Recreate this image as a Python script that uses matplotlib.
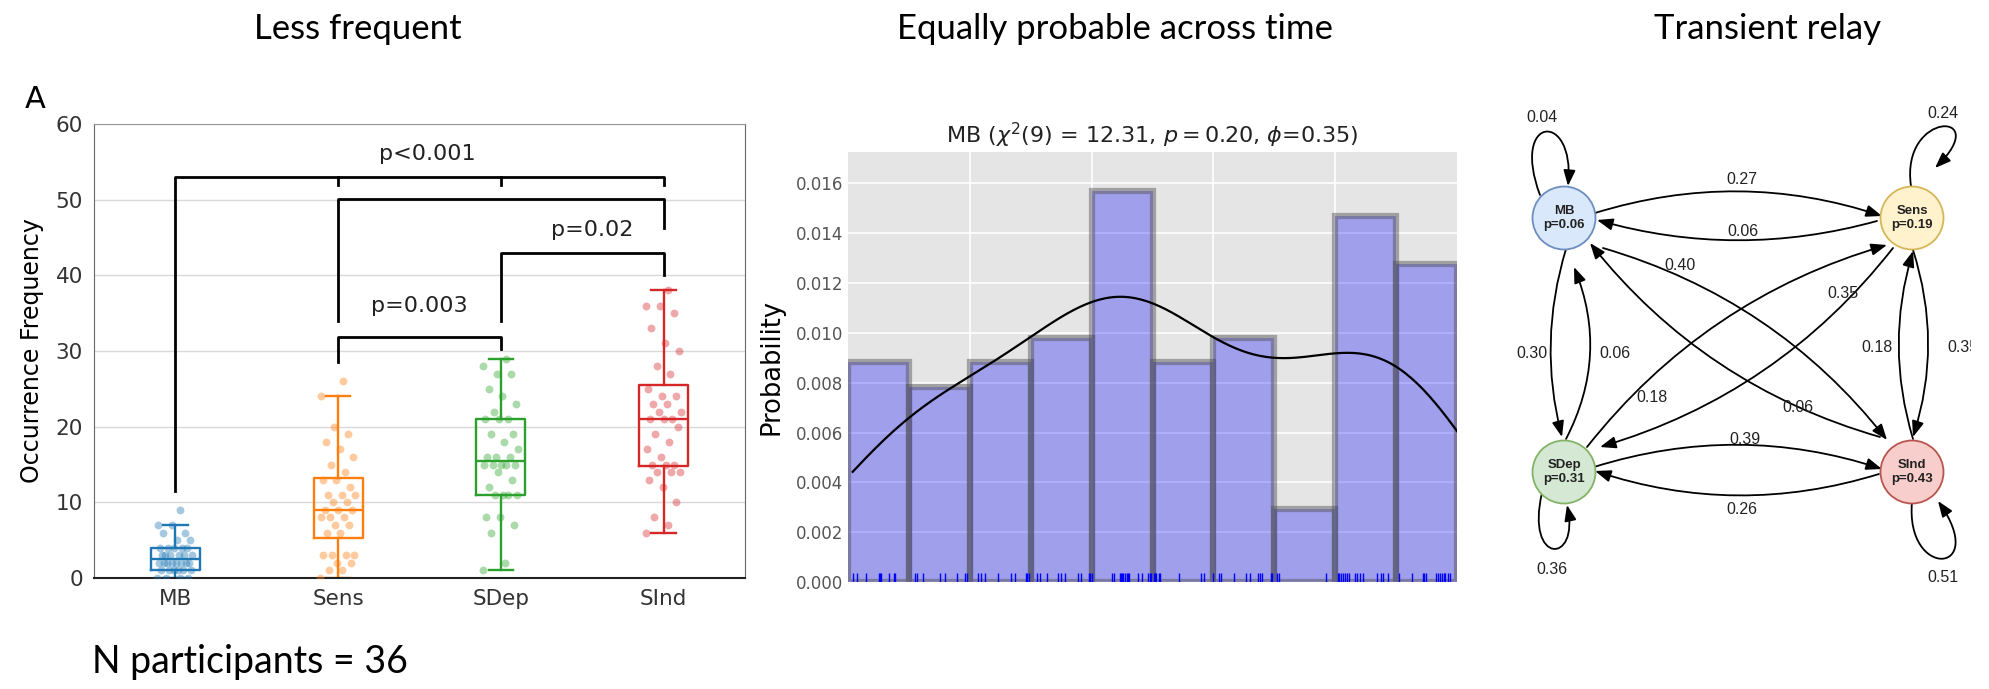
import numpy as np
import matplotlib.pyplot as plt
import seaborn as sns
from matplotlib.patches import Circle, FancyArrowPatch
from matplotlib.path import Path
from matplotlib.transforms import Bbox, TransformedBbox

# occurrence frequency of each state per participant (N = 36)
states = ['MB', 'Sens', 'SDep', 'SInd']
freq_mb = [0, 0, 0, 0, 1, 1, 1, 1, 1, 1, 2, 2, 2, 2, 2, 2, 2, 2,
           3, 3, 3, 3, 3, 3, 4, 4, 4, 4, 4, 5, 5, 6, 6, 7, 7, 9]
freq_sens = [0, 1, 1, 2, 2, 3, 3, 3, 3, 6, 6, 7, 7, 8, 8, 8, 9, 9,
             9, 10, 10, 11, 11, 11, 12, 13, 13, 14, 15, 16, 17, 18, 19, 20, 24, 26]
freq_sdep = [1, 2, 6, 7, 8, 8, 11, 11, 11, 11, 12, 13, 14, 15, 15, 15, 15, 15,
             16, 16, 16, 17, 18, 19, 19, 21, 21, 21, 22, 23, 24, 25, 27, 27, 28, 29]
freq_sind = [6, 7, 8, 10, 12, 13, 14, 14, 14, 15, 15, 15, 16, 17, 18, 19, 20, 21,
             21, 21, 22, 22, 23, 23, 24, 24, 25, 27, 28, 30, 31, 33, 35, 36, 36, 38]
box_colors = ['#1f77b4', '#ff7f0e', '#2ca02c', '#d62728']

# pairwise tests: (group a, group b, bar height, leg end a, leg end b, label, label x, label y)
brackets = [
    (0, 3, 53.0, 11.5, 51.9, 'p<0.001', 1.55, 56.0),
    (1, 3, 50.1, 33.9, 46.2, '', 0, 0),
    (2, 3, 43.0, 33.9, 40.1, 'p=0.02', 2.56, 46.0),
    (1, 2, 31.9, 28.6, 30.3, 'p=0.003', 1.5, 35.9),
]

# onset times of MB episodes (normalised session time, %)
mb_times = [0.77, 1.42, 2.96, 5.1, 5.25, 5.5, 6.73, 7.5, 7.72,
            11.0, 11.4, 12.3, 15.1, 15.9, 17.9, 19.2, 19.5,
            21.3, 21.8, 22.5, 24.7, 26.7, 27.5, 29.2, 29.4, 29.7,
            31.0, 31.5, 32.6, 34.5, 35.0, 35.7, 37.8, 38.3, 39.5, 39.7,
            40.1, 43.3, 43.7, 44.6, 44.9, 45.0, 45.2, 45.5, 45.8, 45.9,
            46.2, 47.7, 48.2, 49.3, 49.6, 49.8,
            50.2, 50.4, 50.6, 51.0, 51.3, 54.4, 57.9, 58.5, 59.9,
            60.9, 61.2, 63.4, 65.4, 66.0, 67.3, 67.6, 67.9, 69.5, 69.7,
            70.4, 70.8, 78.5,
            80.5, 80.7, 80.9, 81.2, 81.6, 82.0, 82.3, 83.3, 83.6, 84.0,
            84.6, 86.8, 87.5, 87.9, 88.6,
            90.4, 92.6, 94.4, 94.6, 94.9, 96.5, 96.8, 97.2, 97.5, 97.8,
            98.1, 98.5, 98.8]
hist_bins = np.arange(0, 101, 10)
chi_title = r'MB ($\chi^2$(9) = 12.31, $p = 0.20$, $\phi$=0.35)'

# transition probabilities, rows = from, cols = to (MB, Sens, SDep, SInd)
state_p = [0.06, 0.19, 0.31, 0.43]
trans = [[0.04, 0.27, 0.30, 0.40],
         [0.06, 0.24, 0.35, 0.35],
         [0.06, 0.18, 0.36, 0.39],
         [0.06, 0.18, 0.26, 0.51]]

W, H = 1989, 689
fig = plt.figure(figsize=(W / 100, H / 100), dpi=100)

# ---- left: occurrence frequency ----
ax1 = fig.add_axes([94 / W, 1 - 578 / H, 651 / W, 454 / H])
pos = np.arange(len(states))
groups = [freq_mb, freq_sens, freq_sdep, freq_sind]
bp = ax1.boxplot(groups, positions=pos, widths=0.3, whis=1.5, showfliers=False)
for i, c in enumerate(box_colors):
    plt.setp(bp['boxes'][i], color=c, lw=1.7)
    plt.setp(bp['medians'][i], color=c, lw=1.7)
    plt.setp(bp['whiskers'][2 * i:2 * i + 2], color=c, lw=1.7)
    plt.setp(bp['caps'][2 * i:2 * i + 2], color=c, lw=1.7)
    vals = np.array(groups[i])
    jit = ((np.arange(len(vals)) * 0.618) % 1 - 0.5) * 0.22
    ax1.scatter(pos[i] + jit, vals, s=32, color=c, alpha=0.4, lw=0, zorder=3)

for a, b, yb, la, lb, lab, lx, ly in brackets:
    ax1.plot([a, a, b, b], [la, yb, yb, lb], color='k', lw=2, zorder=4)
    if a == 0:
        for m in range(1, b):
            ax1.plot([m, m], [yb, lb], color='k', lw=2, zorder=4)
    if lab:
        ax1.text(lx, ly, lab, ha='center', va='center', fontsize=16, color='#222222')

ax1.set_xlim(-0.5, 3.5)
ax1.set_ylim(0, 60)
ax1.set_yticks(range(0, 61, 10))
ax1.set_xticks(pos)
ax1.set_xticklabels(states)
ax1.yaxis.grid(True, color='#d9d9d9', lw=1)
ax1.set_axisbelow(True)
ax1.tick_params(axis='y', length=0, labelsize=15.5, colors='#333333', pad=8)
ax1.tick_params(axis='x', length=0, labelsize=15.5, colors='#333333', pad=8)
ax1.set_ylabel('Occurrence Frequency', fontsize=17, labelpad=8)
for side in ['left', 'right']:
    ax1.spines[side].set_color('#666666')
ax1.spines['top'].set_color('#999999')
ax1.spines['bottom'].set_color('#222222')
ax1.spines['bottom'].set_linewidth(1.5)

# ---- middle: MB timing histogram ----
ax2 = fig.add_axes([848 / W, 1 - 582 / H, 609 / W, 430 / H])
ax2.set_facecolor('#e5e5e5')
ax2.hist(mb_times, bins=hist_bins, density=True, facecolor=(0, 0, 1, 0.3),
         edgecolor=(0.3, 0.3, 0.3, 0.45), linewidth=4.5)
sns.kdeplot(x=mb_times, ax=ax2, color='k', lw=1.6, bw_adjust=1.08,
            clip=(min(mb_times), 100))
sns.rugplot(x=mb_times, ax=ax2, height=0.021, color='b', lw=1)
ax2.set_xlim(0, 100)
ax2.set_ylim(0, 0.01726)
ax2.set_yticks(np.arange(0, 0.0161, 0.002))
ax2.set_yticklabels(['%.3f' % v for v in np.arange(0, 0.0161, 0.002)])
ax2.set_xticks([20, 40, 60, 80])
ax2.set_xticklabels([])
ax2.grid(True, color='white', lw=1.2)
ax2.set_axisbelow(True)
for s in ax2.spines.values():
    s.set_visible(False)
ax2.tick_params(length=0, labelsize=12, colors='#555555')
ax2.set_xlabel('')
ax2.set_ylabel('Probability', fontsize=18.5, labelpad=8)
ax2.set_title(chi_title, fontsize=16, color='#222222', pad=6)

# ---- right: transition diagram, drawn in pixel coordinates ----
ax3 = fig.add_axes([0, 0, 1, 1])
ax3.set_xlim(0, W)
ax3.set_ylim(H, 0)
ax3.axis('off')
ax3.patch.set_alpha(0)

centers = [(1564, 218), (1912, 218), (1564, 472), (1912, 472)]
fills = ['#dae8fc', '#fff2cc', '#d5e8d4', '#f8cecc']
rims = ['#6c8ebf', '#d6b656', '#82b366', '#b85450']
for (cx, cy), f, e, name, p in zip(centers, fills, rims, states, state_p):
    ax3.add_patch(Circle((cx, cy), 31.5, facecolor=f, edgecolor=e, lw=1.3, zorder=3))
    ax3.text(cx, cy, '%s\np=%.2f' % (name, p), ha='center', va='center',
             fontsize=9.5, fontweight='bold', family='Liberation Sans',
             color='#222222', linespacing=1.25, zorder=4)

head = '-|>,head_length=0.95,head_width=0.36'
# (from, to): start point, end point, curvature, label position
edges = {
    (0, 1): ((1595, 213), (1882, 216), -0.16, (1742, 180)),
    (1, 0): ((1877, 221), (1597, 220), -0.14, (1743, 232)),
    (2, 3): ((1594, 467), (1882, 469), -0.16, (1745, 440)),
    (3, 2): ((1879, 474), (1595, 471), -0.16, (1742, 510)),
    (0, 2): ((1566, 249), (1562, 437), 0.14, (1532, 353)),
    (2, 0): ((1566, 439), (1574, 267), 0.23, (1615, 353)),
    (1, 3): ((1913, 250), (1913, 437), -0.16, (1963, 347)),
    (3, 1): ((1913, 439), (1913, 251), -0.15, (1877, 347)),
    (0, 3): ((1603, 248), (1887, 440), -0.16, (1680, 265)),
    (3, 0): ((1880, 437), (1590, 243), -0.16, (1798, 407)),
    (2, 1): ((1587, 447), (1887, 245), -0.16, (1652, 397)),
    (1, 2): ((1893, 248), (1600, 447), -0.16, (1843, 293)),
}
clip = TransformedBbox(Bbox([[0, 0], [1971, H]]), ax3.transData)
for (i, j), (pa, pb, rad, lpos) in edges.items():
    ax3.add_patch(FancyArrowPatch(pa, pb, connectionstyle='arc3,rad=%s' % rad,
                                  arrowstyle=head, mutation_scale=10, lw=1.3,
                                  color='k', shrinkA=0, shrinkB=0, zorder=2))
    t = ax3.text(lpos[0], lpos[1], '%.2f' % trans[i][j], ha='center', va='center',
                 fontsize=11.5, family='Liberation Sans', color='#222222', zorder=5)
    t.set_clip_box(clip)
    t.set_clip_on(True)

# self transitions as cubic loops: control points and label position
loops = [
    ([(1540, 195), (1510, 115), (1575, 110), (1568, 186)], (1542, 117)),
    ([(1911, 186), (1900, 110), (1995, 110), (1935, 168)], (1943, 113)),
    ([(1542, 493), (1525, 565), (1580, 565), (1567, 505)], (1552, 570)),
    ([(1912, 502), (1905, 580), (1990, 575), (1938, 501)], (1943, 578)),
]
for k, (verts, lpos) in enumerate(loops):
    path = Path(verts, [Path.MOVETO, Path.CURVE4, Path.CURVE4, Path.CURVE4])
    ax3.add_patch(FancyArrowPatch(path=path, arrowstyle=head, mutation_scale=10,
                                  lw=1.3, color='k', zorder=2))
    ax3.text(lpos[0], lpos[1], '%.2f' % trans[k][k], ha='center', va='center',
             fontsize=11.5, family='Liberation Sans', color='#222222', zorder=5)

# ---- panel headers ----
hdr = dict(va='baseline', fontsize=25, family='Lato')
fig.text(358 / W, 1 - 39 / H, 'Less frequent', ha='center', **hdr)
fig.text(897 / W, 1 - 39 / H, 'Equally probable across time', ha='left', **hdr)
fig.text(1768 / W, 1 - 39 / H, 'Transient relay', ha='center', **hdr)
fig.text(25 / W, 1 - 108 / H, 'A', fontsize=22, va='baseline')
fig.text(92 / W, 1 - 673 / H, 'N participants = 36', fontsize=27, family='Lato',
         va='baseline')

fig.savefig('out.png', dpi=100)
